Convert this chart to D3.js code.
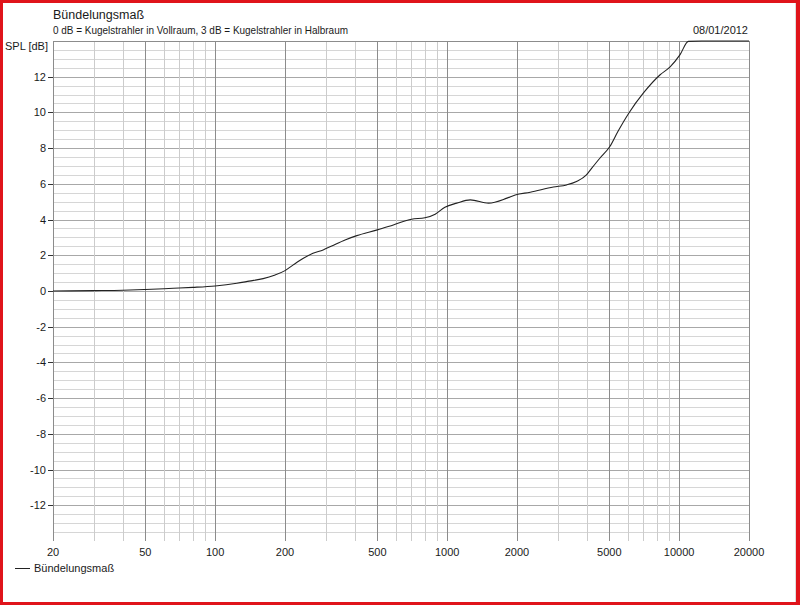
<!DOCTYPE html>
<html><head><meta charset="utf-8">
<script src="https://cdn.jsdelivr.net/npm/d3@7"></script>
<style>
body{margin:0;background:#fff;}
text{font-family:"Liberation Sans",Arial,sans-serif;fill:#1a1a1a;}
</style>
</head><body>
<svg id="c" width="800" height="605"></svg>
<script>
// ---- data ----
const freqs = [20, 30, 40, 50, 66, 80, 100, 124, 140, 161, 180, 200, 217, 240, 264, 292, 318, 363, 408, 500, 586, 702, 802, 888, 978, 1100, 1258, 1508, 1810, 1964, 2280, 2870, 3272, 3610, 3984, 4184, 4540, 5026, 5444, 6074, 7016, 8280, 9140, 10090, 10956, 12500, 16000, 20000];
const values = [0, 0.02, 0.04, 0.08, 0.15, 0.2, 0.28, 0.43, 0.55, 0.69, 0.88, 1.14, 1.46, 1.83, 2.11, 2.3, 2.52, 2.86, 3.1, 3.42, 3.7, 4.02, 4.1, 4.3, 4.69, 4.92, 5.1, 4.92, 5.2, 5.38, 5.53, 5.82, 5.94, 6.13, 6.5, 6.85, 7.42, 8.09, 8.93, 9.97, 11.09, 12.11, 12.55, 13.24, 13.98, 14, 14, 14];
const yTicks = [-12, -10, -8, -6, -4, -2, 0, 2, 4, 6, 8, 10, 12];
const xTickLabels = [20, 50, 100, 200, 500, 1000, 2000, 5000, 10000, 20000];
const titleText = "Bündelungsmaß";
const subtitleText = "0 dB = Kugelstrahler in Vollraum, 3 dB = Kugelstrahler in Halbraum";
const dateText = "08/01/2012";
const yLabelText = "SPL [dB]";
const seriesName = "Bündelungsmaß";

// ---- layout ----
const svg = d3.select("#c");
const L = 53, R = 749, T = 41, B = 532;
const x = d3.scaleLog().domain([20, 20000]).range([L, R]);
const y = d3.scaleLinear().domain([-13.5, 14]).range([B, T]).clamp(true);

// red frame
svg.append("rect").attr("x",0).attr("y",0).attr("width",800).attr("height",605).attr("fill","#fff");
const red = "#e0141b";
svg.append("rect").attr("x",0).attr("y",0).attr("width",800).attr("height",3).attr("fill",red);
svg.append("rect").attr("x",0).attr("y",602).attr("width",800).attr("height",3).attr("fill",red);
svg.append("rect").attr("x",0).attr("y",0).attr("width",3).attr("height",605).attr("fill",red);
svg.append("rect").attr("x",796).attr("y",0).attr("width",4).attr("height",605).attr("fill",red);
svg.append("line").attr("x1",795.5).attr("x2",795.5).attr("y1",3).attr("y2",602).attr("stroke","#ddd");

// horizontal grid (0.5 dB)
const hLines = d3.range(-13.5, 14.001, 0.5);
svg.append("g").selectAll("line").data(hLines).join("line")
  .attr("x1", L).attr("x2", R)
  .attr("y1", d => Math.round(y(d)) + 0.5).attr("y2", d => Math.round(y(d)) + 0.5)
  .attr("stroke", d => (Math.abs(d % 2) < 1e-9) ? "#a8a8a8" : "#d6d6d6")
  .attr("stroke-width", 1);

// vertical grid (1..9 per decade)
const vLines = [];
[10, 100, 1000, 10000].forEach(dec => { for (let k = 1; k <= 9; k++) { const f = dec * k; if (f >= 20 && f <= 20000) vLines.push(f); } });
vLines.push(20000);
svg.append("g").selectAll("line").data(vLines).join("line")
  .attr("x1", d => Math.round(x(d)) + 0.5).attr("x2", d => Math.round(x(d)) + 0.5)
  .attr("y1", T).attr("y2", B + 9)
  .attr("stroke", d => xTickLabels.includes(d) ? "#8c8c8c" : "#cccccc")
  .attr("stroke-width", 1);

// plot border top/left
svg.append("line").attr("x1",L).attr("x2",R+0.5).attr("y1",T+0.5).attr("y2",T+0.5).attr("stroke","#8c8c8c");
svg.append("line").attr("x1",L+0.5).attr("x2",L+0.5).attr("y1",T).attr("y2",B).attr("stroke","#8c8c8c");

// y axis ticks and labels
const yg = svg.append("g");
yg.selectAll("line").data(yTicks).join("line")
  .attr("x1", L - 5).attr("x2", L)
  .attr("y1", d => Math.round(y(d)) + 0.5).attr("y2", d => Math.round(y(d)) + 0.5)
  .attr("stroke", "#333");
yg.selectAll("text").data(yTicks).join("text")
  .attr("x", 46).attr("y", d => y(d) + 4)
  .attr("text-anchor", "end").attr("font-size", "11px")
  .text(d => d);

// x labels
svg.append("g").selectAll("text").data(xTickLabels).join("text")
  .attr("x", d => x(d)).attr("y", 556)
  .attr("text-anchor", "middle").attr("font-size", "11px")
  .text(d => d);

// curve
const line = d3.line().x(d => x(d[0])).y(d => y(d[1])).curve(d3.curveMonotoneX);
svg.append("path").datum(freqs.map((f, i) => [f, values[i]]))
  .attr("d", line).attr("fill", "none").attr("stroke", "#222").attr("stroke-width", 1.1);

// texts
svg.append("text").attr("x", 53).attr("y", 19).attr("font-size", "12.5px").text(titleText);
svg.append("text").attr("x", 53).attr("y", 34).attr("font-size", "11px")
  .attr("textLength", 295).attr("lengthAdjust", "spacingAndGlyphs").text(subtitleText);
svg.append("text").attr("x", 748).attr("y", 34).attr("font-size", "11px").attr("text-anchor", "end").text(dateText);
svg.append("text").attr("x", 48).attr("y", 50).attr("font-size", "11px").attr("text-anchor", "end").text(yLabelText);

// legend
svg.append("line").attr("x1", 15).attr("x2", 30).attr("y1", 568.5).attr("y2", 568.5).attr("stroke", "#222");
svg.append("text").attr("x", 34).attr("y", 572).attr("font-size", "11px").text(seriesName);
</script>
</body></html>
